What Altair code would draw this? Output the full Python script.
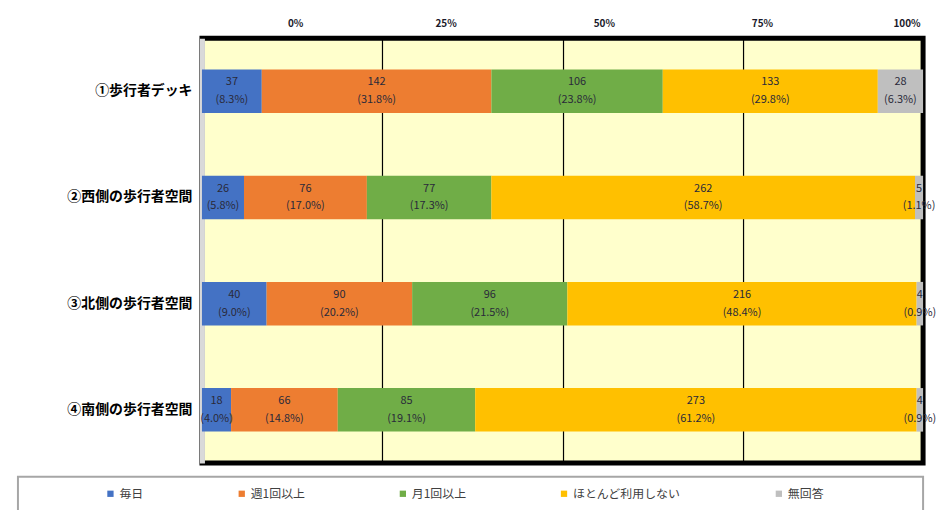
import altair as alt
import pandas as pd

categories = ["①歩行者デッキ", "②西側の歩行者空間", "③北側の歩行者空間", "④南側の歩行者空間"]
responses = ["毎日", "週1回以上", "月1回以上", "ほとんど利用しない", "無回答"]
colors = ["#4472C4", "#ED7D31", "#70AD47", "#FFC000", "#BFBFBF"]
counts = [
    [37, 142, 106, 133, 28],
    [26, 76, 77, 262, 5],
    [40, 90, 96, 216, 4],
    [18, 66, 85, 273, 4],
]
pct_labels = [
    ["8.3%", "31.8%", "23.8%", "29.8%", "6.3%"],
    ["5.8%", "17.0%", "17.3%", "58.7%", "1.1%"],
    ["9.0%", "20.2%", "21.5%", "48.4%", "0.9%"],
    ["4.0%", "14.8%", "19.1%", "61.2%", "0.9%"],
]
tick_values = [0, 25, 50, 75, 100]

rows = []
for i, c in enumerate(categories):
    for j, r in enumerate(responses):
        rows.append({"category": c, "response": r, "order": j, "count": counts[i][j],
                     "label": f"{counts[i][j]}\n({pct_labels[i][j]})"})
df = pd.DataFrame(rows)

FONT = "Noto Sans CJK JP"

base = alt.Chart(df).transform_stack(
    stack="count", groupby=["category"], as_=["s0", "s1"],
    sort=[alt.SortField("order")], offset="normalize"
).transform_calculate(mid="(datum.s0 + datum.s1) / 2")

y_enc = alt.Y("category:N", sort=categories, title=None,
              scale=alt.Scale(paddingInner=0.59, paddingOuter=0.295),
              axis=alt.Axis(labelFont=FONT, labelFontSize=14, labelFontWeight="bold",
                            labelColor="#000000", labelPadding=10, ticks=False,
                            domain=True, domainColor="#D9D9D9", domainWidth=5))

bars = base.mark_bar().encode(
    x=alt.X("s0:Q", scale=alt.Scale(domain=[0, 1]), title=None,
            axis=alt.Axis(values=[0.25, 0.5, 0.75], labels=False, ticks=False, domain=False,
                          grid=True, gridColor="#000000", gridWidth=1.2)),
    x2="s1:Q",
    y=y_enc,
    color=alt.Color("response:N", sort=responses,
                    scale=alt.Scale(domain=responses, range=colors),
                    legend=alt.Legend(title=None, orient="none", direction="horizontal",
                                      columns=5, legendX=-98, legendY=452,
                                      symbolType="square", symbolSize=40,
                                      symbolStrokeWidth=0,
                                      labelFont=FONT, labelFontSize=12, labelColor="#404040",
                                      columnPadding=92, labelOffset=3)),
    order=alt.Order("order:Q"),
)

texts = base.mark_text(lineBreak="\n", font=FONT, fontSize=11, color="#2a2a3a",
                       lineHeight=18, dy=-9).encode(
    x=alt.X("mid:Q", scale=alt.Scale(domain=[0, 1]), axis=None),
    y=alt.Y("category:N", sort=categories),
    text="label:N",
)

ticks_df = pd.DataFrame({"tick": tick_values})
top_axis = alt.Chart(ticks_df).mark_point(opacity=0).encode(
    x=alt.X("tick:Q", title=None,
            scale=alt.Scale(domain=[0, 100], range=[86, 722]),
            axis=alt.Axis(orient="top", values=tick_values, labelExpr="datum.value + '%'",
                          domain=False, ticks=False, grid=False, labelPadding=10,
                          labelFont=FONT, labelFontSize=10, labelFontWeight="bold",
                          labelColor="#1a1a2a")),
)

legend_box = alt.Chart(pd.DataFrame({"v": [0]})).mark_rect(
    fill="white", fillOpacity=0, stroke="#A6A6A6", strokeWidth=2
).encode(x=alt.value(-185), x2=alt.value(725), y=alt.value(441), y2=alt.value(500))

chart = alt.layer(legend_box, bars, texts, top_axis).resolve_scale(x="independent").properties(
    width=725, height=427,
    autosize=alt.AutoSizeParams(type="none"),
    padding={"left": 195, "top": 29, "right": 15, "bottom": 60},
    background="white",
).configure_view(
    fill="#FFFFCC", stroke="#000000", strokeWidth=5
)

chart.save("out.html", embed_options={"renderer": "svg", "actions": False})
